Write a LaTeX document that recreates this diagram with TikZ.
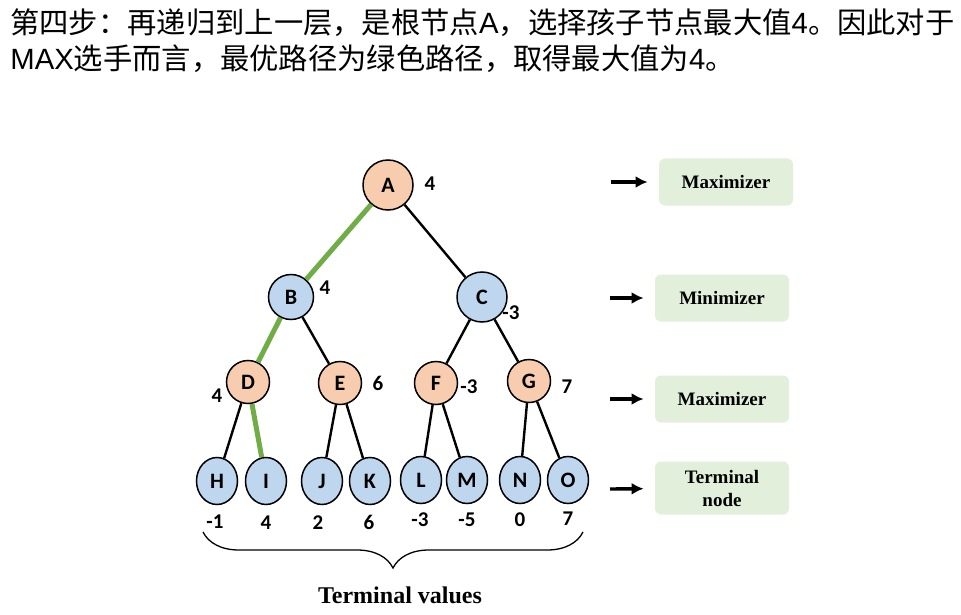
\documentclass[tikz,border=0pt]{standalone}
\usepackage{fontspec}
\setmainfont{Liberation Serif}
\setsansfont{Liberation Sans}
\newfontfamily\cjk{Noto Sans CJK SC}
\newfontfamily\carlito{Carlito}
\usetikzlibrary{arrows,arrows.meta,shapes.geometric,decorations.pathreplacing}

\begin{document}
\begin{tikzpicture}[x=1pt,y=-1pt,thick,>={Latex[length=12pt,width=12pt]},
  max node/.style={circle,fill=maxcol,draw,line width=1.5pt,inner sep=0pt,font=\carlito\bfseries\fontsize{22}{22}\selectfont},
  min node/.style={circle,fill=mincol,draw,line width=1.5pt,inner sep=0pt,font=\carlito\bfseries\fontsize{22}{22}\selectfont},
  leaf node/.style={ellipse,fill=mincol,draw,line width=1.5pt,inner sep=0pt,minimum width=41pt,minimum height=47pt,font=\carlito\bfseries\fontsize{22}{22}\selectfont},
  value/.style={font=\carlito\bfseries\fontsize{21}{21}\selectfont,inner sep=0pt},
  level box/.style={rounded corners=6pt,fill=boxcol,minimum width=134pt,minimum height=47pt,align=center,font=\bfseries\fontsize{19}{23}\selectfont}]

  \definecolor{maxcol}{RGB}{248,204,174}
  \definecolor{mincol}{RGB}{190,215,238}
  \definecolor{boxcol}{RGB}{226,239,218}
  \definecolor{pathcol}{RGB}{112,173,71}

  \useasboundingbox (0,0) rectangle (961,615);

  % caption above the tree
  \node[anchor=base west,inner sep=0pt,font=\fontsize{29.3}{29.3}\selectfont] (line1) at (10,34)
    {\cjk 第四步：再递归到上一层，是根节点\sffamily A\cjk ，选择孩子节点最大值\sffamily 4\cjk 。因此对于};
  \node[anchor=base west,inner sep=0pt,font=\fontsize{29.3}{29.3}\selectfont] (line2) at (10,70)
    {\sffamily MAX\cjk 选手而言，最优路径为绿色路径，取得最大值为\sffamily 4\cjk 。};

  % tree
  \node[max node,minimum size=50pt] (A) at (388,185) {A};
  \node[min node,minimum size=45pt] (B) at (291,297) {B};
  \node[min node,minimum size=50pt] (C) at (482,297) {C};
  \node[max node,minimum size=43pt] (D) at (248,382) {D};
  \node[max node,minimum size=43pt] (E) at (340,383) {E};
  \node[max node,minimum size=43pt] (F) at (436,383) {F};
  \node[max node,minimum size=43pt] (G) at (529,381) {G};
  \node[leaf node] (H) at (217,481) {H};
  \node[leaf node] (I) at (266,481) {I};
  \node[leaf node] (J) at (322,481) {J};
  \node[leaf node] (K) at (370,481) {K};
  \node[leaf node] (L) at (421,480) {L};
  \node[leaf node] (M) at (467,480) {M};
  \node[leaf node] (N) at (520,480) {N};
  \node[leaf node] (O) at (568,480) {O};

  \path[every edge/.style={draw,line width=2.4pt}]
    (A) edge (C)
    (B) edge (E)
    (C) edge (F)
    (C) edge (G)
    (D) edge (H)
    (E) edge (J)
    (E) edge (K)
    (F) edge (L)
    (F) edge (M)
    (G) edge (N)
    (G) edge (O);

  \path[every edge/.style={draw=pathcol,line width=5pt}]
    (A) edge (B)
    (B) edge (D)
    (D) edge (I);

  % backed up values
  \node[value] (vA) at (430,184) {4};
  \node[value] (vB) at (325,288) {4};
  \node[value] (vC) at (511,313) {-3};
  \node[value] (vD) at (217,396) {4};
  \node[value] (vE) at (378,383) {6};
  \node[value] (vF) at (469,387) {-3};
  \node[value] (vG) at (567,387) {7};

  % terminal values
  \node[value] (tH) at (215,522) {-1};
  \node[value] (tI) at (266,523) {4};
  \node[value] (tJ) at (318,523) {2};
  \node[value] (tK) at (369,522) {6};
  \node[value] (tL) at (420,520) {-3};
  \node[value] (tM) at (467,520) {-5};
  \node[value] (tN) at (520,520) {0};
  \node[value] (tO) at (568,519) {7};

  \coordinate (bl) at (203,532);
  \coordinate (br) at (583,532);
  \draw[line width=1.3pt,decorate,decoration={brace,mirror,amplitude=36pt,aspect=0.5}] (bl) -- (br);
  \node[font=\bfseries\fontsize{24}{24}\selectfont] (tv) at (400,595) {Terminal values};

  % levels on the right
  \node[level box] (lv1) at (726,182) {Maximizer};
  \node[level box] (lv2) at (722,298) {Minimizer};
  \node[level box] (lv3) at (722,399) {Maximizer};
  \node[level box,minimum height=53pt] (lv4) at (722,488) {Terminal\\node};

  \coordinate (a1) at (611,182);
  \coordinate (a2) at (610,298);
  \coordinate (a3) at (610,399);
  \coordinate (a4) at (610,489);

  \path[every edge/.style={draw,->,line width=3.4pt,shorten >=11pt}]
    (a1) edge (lv1)
    (a2) edge (lv2)
    (a3) edge (lv3)
    (a4) edge (lv4);

\end{tikzpicture}
\end{document}
